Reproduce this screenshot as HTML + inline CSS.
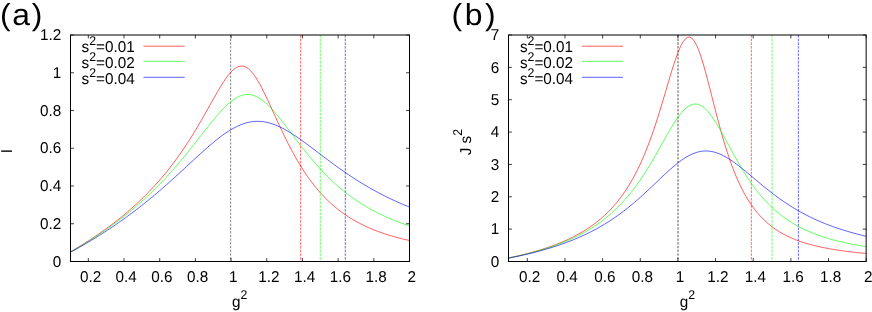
<!DOCTYPE html>
<html><head><meta charset="utf-8"><title>plot</title>
<style>
html,body{margin:0;padding:0;background:#fff;}
svg{display:block;will-change:transform}
text{font-family:"Liberation Sans",sans-serif;font-size:15.3px;fill:#000;text-rendering:geometricPrecision}
</style></head><body>
<svg width="872" height="312" viewBox="0 0 872 312">
<rect width="872" height="312" fill="#fff"/>
<line x1="230.65" y1="35.00" x2="230.65" y2="261.50" stroke="#000000" stroke-width="0.7" stroke-dasharray="2.3 1.4" stroke-opacity="0.7"/>
<line x1="300.66" y1="35.00" x2="300.66" y2="261.50" stroke="#ff0000" stroke-width="0.7" stroke-dasharray="2.6 1.1" stroke-opacity="0.85"/>
<line x1="320.29" y1="35.00" x2="320.29" y2="261.50" stroke="#00ff00" stroke-width="0.7" stroke-dasharray="2.6 1.1" stroke-opacity="0.85"/>
<line x1="345.27" y1="35.00" x2="345.27" y2="261.50" stroke="#0000ff" stroke-width="0.7" stroke-dasharray="2.6 1.1" stroke-opacity="0.85"/>
<polyline points="70.50,251.74 72.28,250.70 74.07,249.66 75.85,248.61 77.64,247.54 79.42,246.46 81.21,245.37 82.99,244.27 84.77,243.16 86.56,242.03 88.34,240.89 90.13,239.74 91.91,238.57 93.69,237.39 95.48,236.20 97.26,234.99 99.05,233.77 100.83,232.53 102.62,231.27 104.40,230.00 106.18,228.72 107.97,227.41 109.75,226.09 111.54,224.75 113.32,223.40 115.11,222.02 116.89,220.63 118.67,219.22 120.46,217.79 122.24,216.33 124.03,214.86 125.81,213.37 127.59,211.85 129.38,210.31 131.16,208.75 132.95,207.16 134.73,205.55 136.52,203.92 138.30,202.25 140.08,200.57 141.87,198.85 143.65,197.11 145.44,195.34 147.22,193.53 149.01,191.70 150.79,189.84 152.57,187.94 154.36,186.01 156.14,184.05 157.93,182.05 159.71,180.02 161.49,177.95 163.28,175.84 165.06,173.69 166.85,171.50 168.63,169.27 170.42,167.00 172.20,164.69 173.98,162.33 175.77,159.93 177.55,157.48 179.34,154.98 181.12,152.44 182.91,149.85 184.69,147.21 186.47,144.52 188.26,141.78 190.04,138.99 191.83,136.16 193.61,133.27 195.39,130.34 197.18,127.37 198.96,124.35 200.75,121.29 202.53,118.19 204.32,115.07 206.10,111.91 207.88,108.74 209.67,105.56 211.45,102.38 213.24,99.21 215.02,96.06 216.81,92.95 218.59,89.90 220.37,86.92 222.16,84.03 223.94,81.27 225.73,78.65 227.51,76.20 229.29,73.96 231.08,71.93 232.86,70.16 234.65,68.68 236.43,67.50 238.22,66.65 240.00,66.15 241.78,66.01 243.57,66.24 245.35,66.85 247.14,67.84 248.92,69.19 250.71,70.89 252.49,72.93 254.27,75.28 256.06,77.91 257.84,80.80 259.63,83.92 261.41,87.24 263.19,90.72 264.98,94.34 266.76,98.06 268.55,101.87 270.33,105.73 272.12,109.63 273.90,113.55 275.68,117.46 277.47,121.35 279.25,125.20 281.04,129.01 282.82,132.77 284.61,136.46 286.39,140.08 288.17,143.62 289.96,147.09 291.74,150.46 293.53,153.76 295.31,156.96 297.09,160.07 298.88,163.09 300.66,166.03 302.45,168.87 304.23,171.63 306.02,174.29 307.80,176.87 309.58,179.37 311.37,181.78 313.15,184.12 314.94,186.37 316.72,188.55 318.51,190.65 320.29,192.68 322.07,194.64 323.86,196.54 325.64,198.36 327.43,200.13 329.21,201.83 330.99,203.48 332.78,205.06 334.56,206.60 336.35,208.07 338.13,209.50 339.92,210.88 341.70,212.21 343.48,213.50 345.27,214.74 347.05,215.94 348.84,217.10 350.62,218.22 352.41,219.30 354.19,220.34 355.97,221.35 357.76,222.33 359.54,223.28 361.33,224.19 363.11,225.08 364.89,225.93 366.68,226.76 368.46,227.56 370.25,228.34 372.03,229.09 373.82,229.82 375.60,230.52 377.38,231.20 379.17,231.87 380.95,232.51 382.74,233.13 384.52,233.73 386.31,234.32 388.09,234.89 389.87,235.44 391.66,235.97 393.44,236.49 395.23,237.00 397.01,237.48 398.79,237.96 400.58,238.42 402.36,238.87 404.15,239.31 405.93,239.73 407.72,240.14 409.50,240.54" fill="none" stroke="#ff0000" stroke-width="0.72" stroke-opacity="0.88" stroke-linejoin="round"/>
<polyline points="70.50,251.91 72.28,250.90 74.07,249.88 75.85,248.85 77.64,247.80 79.42,246.75 81.21,245.69 82.99,244.61 84.77,243.53 86.56,242.43 88.34,241.32 90.13,240.20 91.91,239.07 93.69,237.92 95.48,236.76 97.26,235.59 99.05,234.41 100.83,233.21 102.62,232.00 104.40,230.78 106.18,229.54 107.97,228.28 109.75,227.01 111.54,225.73 113.32,224.43 115.11,223.12 116.89,221.78 118.67,220.44 120.46,219.07 122.24,217.69 124.03,216.29 125.81,214.88 127.59,213.45 129.38,211.99 131.16,210.52 132.95,209.03 134.73,207.52 136.52,205.99 138.30,204.44 140.08,202.87 141.87,201.28 143.65,199.67 145.44,198.04 147.22,196.38 149.01,194.70 150.79,193.00 152.57,191.27 154.36,189.53 156.14,187.75 157.93,185.96 159.71,184.14 161.49,182.29 163.28,180.42 165.06,178.53 166.85,176.61 168.63,174.66 170.42,172.69 172.20,170.70 173.98,168.68 175.77,166.63 177.55,164.56 179.34,162.47 181.12,160.35 182.91,158.21 184.69,156.05 186.47,153.87 188.26,151.67 190.04,149.45 191.83,147.21 193.61,144.95 195.39,142.69 197.18,140.41 198.96,138.13 200.75,135.84 202.53,133.55 204.32,131.27 206.10,128.99 207.88,126.73 209.67,124.48 211.45,122.25 213.24,120.06 215.02,117.90 216.81,115.78 218.59,113.72 220.37,111.71 222.16,109.77 223.94,107.90 225.73,106.13 227.51,104.44 229.29,102.86 231.08,101.38 232.86,100.03 234.65,98.81 236.43,97.73 238.22,96.79 240.00,96.01 241.78,95.38 243.57,94.92 245.35,94.63 247.14,94.51 248.92,94.56 250.71,94.78 252.49,95.17 254.27,95.73 256.06,96.46 257.84,97.35 259.63,98.40 261.41,99.59 263.19,100.92 264.98,102.39 266.76,103.98 268.55,105.68 270.33,107.48 272.12,109.38 273.90,111.37 275.68,113.43 277.47,115.56 279.25,117.74 281.04,119.97 282.82,122.24 284.61,124.54 286.39,126.86 288.17,129.20 289.96,131.55 291.74,133.91 293.53,136.26 295.31,138.61 297.09,140.94 298.88,143.26 300.66,145.57 302.45,147.85 304.23,150.10 306.02,152.33 307.80,154.53 309.58,156.69 311.37,158.82 313.15,160.92 314.94,162.98 316.72,165.01 318.51,167.00 320.29,168.95 322.07,170.86 323.86,172.73 325.64,174.57 327.43,176.36 329.21,178.12 330.99,179.84 332.78,181.52 334.56,183.16 336.35,184.76 338.13,186.33 339.92,187.86 341.70,189.36 343.48,190.82 345.27,192.24 347.05,193.63 348.84,194.99 350.62,196.31 352.41,197.61 354.19,198.87 355.97,200.10 357.76,201.30 359.54,202.47 361.33,203.61 363.11,204.72 364.89,205.81 366.68,206.87 368.46,207.90 370.25,208.91 372.03,209.90 373.82,210.86 375.60,211.79 377.38,212.71 379.17,213.60 380.95,214.47 382.74,215.31 384.52,216.14 386.31,216.95 388.09,217.74 389.87,218.51 391.66,219.26 393.44,219.99 395.23,220.71 397.01,221.41 398.79,222.09 400.58,222.75 402.36,223.40 404.15,224.04 405.93,224.66 407.72,225.27 409.50,225.86" fill="none" stroke="#00ff00" stroke-width="0.72" stroke-opacity="0.88" stroke-linejoin="round"/>
<polyline points="70.50,252.23 72.28,251.26 74.07,250.28 75.85,249.30 77.64,248.30 79.42,247.29 81.21,246.28 82.99,245.25 84.77,244.22 86.56,243.17 88.34,242.12 90.13,241.06 91.91,239.98 93.69,238.90 95.48,237.81 97.26,236.71 99.05,235.59 100.83,234.47 102.62,233.33 104.40,232.19 106.18,231.03 107.97,229.86 109.75,228.68 111.54,227.49 113.32,226.29 115.11,225.08 116.89,223.85 118.67,222.61 120.46,221.37 122.24,220.10 124.03,218.83 125.81,217.54 127.59,216.25 129.38,214.93 131.16,213.61 132.95,212.27 134.73,210.93 136.52,209.56 138.30,208.19 140.08,206.80 141.87,205.40 143.65,203.99 145.44,202.56 147.22,201.12 149.01,199.67 150.79,198.20 152.57,196.72 154.36,195.23 156.14,193.73 157.93,192.21 159.71,190.69 161.49,189.15 163.28,187.59 165.06,186.03 166.85,184.46 168.63,182.88 170.42,181.28 172.20,179.68 173.98,178.07 175.77,176.45 177.55,174.82 179.34,173.19 181.12,171.55 182.91,169.90 184.69,168.25 186.47,166.60 188.26,164.95 190.04,163.30 191.83,161.64 193.61,159.99 195.39,158.35 197.18,156.71 198.96,155.07 200.75,153.45 202.53,151.84 204.32,150.24 206.10,148.66 207.88,147.09 209.67,145.55 211.45,144.03 213.24,142.53 215.02,141.06 216.81,139.63 218.59,138.22 220.37,136.86 222.16,135.53 223.94,134.24 225.73,133.00 227.51,131.81 229.29,130.67 231.08,129.59 232.86,128.56 234.65,127.59 236.43,126.68 238.22,125.84 240.00,125.06 241.78,124.35 243.57,123.72 245.35,123.15 247.14,122.66 248.92,122.25 250.71,121.91 252.49,121.65 254.27,121.46 256.06,121.36 257.84,121.33 259.63,121.38 261.41,121.50 263.19,121.70 264.98,121.98 266.76,122.33 268.55,122.74 270.33,123.23 272.12,123.79 273.90,124.41 275.68,125.09 277.47,125.83 279.25,126.63 281.04,127.48 282.82,128.39 284.61,129.34 286.39,130.34 288.17,131.38 289.96,132.46 291.74,133.57 293.53,134.72 295.31,135.90 297.09,137.11 298.88,138.34 300.66,139.60 302.45,140.88 304.23,142.17 306.02,143.48 307.80,144.80 309.58,146.13 311.37,147.47 313.15,148.81 314.94,150.17 316.72,151.52 318.51,152.87 320.29,154.23 322.07,155.58 323.86,156.93 325.64,158.27 327.43,159.61 329.21,160.94 330.99,162.27 332.78,163.58 334.56,164.89 336.35,166.18 338.13,167.46 339.92,168.74 341.70,170.00 343.48,171.24 345.27,172.48 347.05,173.70 348.84,174.90 350.62,176.10 352.41,177.27 354.19,178.44 355.97,179.58 357.76,180.71 359.54,181.83 361.33,182.93 363.11,184.02 364.89,185.09 366.68,186.14 368.46,187.18 370.25,188.21 372.03,189.22 373.82,190.21 375.60,191.19 377.38,192.15 379.17,193.10 380.95,194.03 382.74,194.95 384.52,195.85 386.31,196.74 388.09,197.61 389.87,198.47 391.66,199.32 393.44,200.15 395.23,200.97 397.01,201.77 398.79,202.57 400.58,203.34 402.36,204.11 404.15,204.86 405.93,205.60 407.72,206.33 409.50,207.05" fill="none" stroke="#0000ff" stroke-width="0.72" stroke-opacity="0.88" stroke-linejoin="round"/>
<rect x="70.50" y="35.00" width="339.00" height="226.50" fill="none" stroke="#000" stroke-width="1"/>
<path d="M88.34 261.50v-3.4M88.34 35.00v3.4M124.03 261.50v-3.4M124.03 35.00v3.4M159.71 261.50v-3.4M159.71 35.00v3.4M195.39 261.50v-3.4M195.39 35.00v3.4M231.08 261.50v-3.4M231.08 35.00v3.4M266.76 261.50v-3.4M266.76 35.00v3.4M302.45 261.50v-3.4M302.45 35.00v3.4M338.13 261.50v-3.4M338.13 35.00v3.4M373.82 261.50v-3.4M373.82 35.00v3.4M409.50 261.50v-3.4M409.50 35.00v3.4M70.50 261.50h3.4M409.50 261.50h-3.4M70.50 223.75h3.4M409.50 223.75h-3.4M70.50 186.00h3.4M409.50 186.00h-3.4M70.50 148.25h3.4M409.50 148.25h-3.4M70.50 110.50h3.4M409.50 110.50h-3.4M70.50 72.75h3.4M409.50 72.75h-3.4M70.50 35.00h3.4M409.50 35.00h-3.4" stroke="#000" stroke-width="0.9" stroke-opacity="0.85" fill="none"/>
<text transform="translate(90.54,281.90) scale(1,1.03)" text-anchor="middle">0.2</text>
<text transform="translate(126.23,281.90) scale(1,1.03)" text-anchor="middle">0.4</text>
<text transform="translate(161.91,281.90) scale(1,1.03)" text-anchor="middle">0.6</text>
<text transform="translate(197.59,281.90) scale(1,1.03)" text-anchor="middle">0.8</text>
<text transform="translate(233.28,281.90) scale(1,1.03)" text-anchor="middle">1</text>
<text transform="translate(268.96,281.90) scale(1,1.03)" text-anchor="middle">1.2</text>
<text transform="translate(304.65,281.90) scale(1,1.03)" text-anchor="middle">1.4</text>
<text transform="translate(340.33,281.90) scale(1,1.03)" text-anchor="middle">1.6</text>
<text transform="translate(376.02,281.90) scale(1,1.03)" text-anchor="middle">1.8</text>
<text transform="translate(411.70,281.90) scale(1,1.03)" text-anchor="middle">2</text>
<text transform="translate(61.30,266.70) scale(1,1.03)" text-anchor="end">0</text>
<text transform="translate(61.30,228.95) scale(1,1.03)" text-anchor="end">0.2</text>
<text transform="translate(61.30,191.20) scale(1,1.03)" text-anchor="end">0.4</text>
<text transform="translate(61.30,153.45) scale(1,1.03)" text-anchor="end">0.6</text>
<text transform="translate(61.30,115.70) scale(1,1.03)" text-anchor="end">0.8</text>
<text transform="translate(61.30,77.95) scale(1,1.03)" text-anchor="end">1</text>
<text transform="translate(61.30,40.20) scale(1,1.03)" text-anchor="end">1.2</text>
<text transform="translate(81.60,52.40) scale(1,1.03)" text-anchor="start">s<tspan dy="-7.09" font-size="12.3">2</tspan><tspan dy="7.09">=0.01</tspan></text>
<line x1="143.5" y1="46.2" x2="184.7" y2="46.2" stroke="#ff0000" stroke-width="0.72" stroke-opacity="0.88"/>
<text transform="translate(81.60,68.10) scale(1,1.03)" text-anchor="start">s<tspan dy="-7.09" font-size="12.3">2</tspan><tspan dy="7.09">=0.02</tspan></text>
<line x1="143.5" y1="61.3" x2="184.7" y2="61.3" stroke="#00ff00" stroke-width="0.72" stroke-opacity="0.88"/>
<text transform="translate(81.60,83.80) scale(1,1.03)" text-anchor="start">s<tspan dy="-7.09" font-size="12.3">2</tspan><tspan dy="7.09">=0.04</tspan></text>
<line x1="143.5" y1="77.3" x2="184.7" y2="77.3" stroke="#0000ff" stroke-width="0.72" stroke-opacity="0.88"/>
<line x1="678.00" y1="35.00" x2="678.00" y2="261.50" stroke="#000000" stroke-width="0.85" stroke-dasharray="2.3 1.4" stroke-opacity="0.8"/>
<line x1="751.33" y1="35.00" x2="751.33" y2="261.50" stroke="#ff0000" stroke-width="0.7" stroke-dasharray="2.6 1.1" stroke-opacity="0.85"/>
<line x1="772.03" y1="35.00" x2="772.03" y2="261.50" stroke="#00ff00" stroke-width="0.7" stroke-dasharray="2.6 1.1" stroke-opacity="0.85"/>
<line x1="798.38" y1="35.00" x2="798.38" y2="261.50" stroke="#0000ff" stroke-width="0.7" stroke-dasharray="2.6 1.1" stroke-opacity="0.85"/>
<polyline points="508.50,257.97 510.38,257.58 512.26,257.18 514.15,256.76 516.03,256.34 517.91,255.91 519.79,255.47 521.68,255.02 523.56,254.56 525.44,254.09 527.32,253.60 529.21,253.11 531.09,252.60 532.97,252.08 534.85,251.55 536.74,251.01 538.62,250.45 540.50,249.87 542.38,249.28 544.26,248.68 546.15,248.06 548.03,247.42 549.91,246.77 551.79,246.10 553.68,245.41 555.56,244.70 557.44,243.96 559.32,243.21 561.21,242.44 563.09,241.64 564.97,240.82 566.85,239.97 568.74,239.10 570.62,238.20 572.50,237.27 574.38,236.31 576.27,235.32 578.15,234.30 580.03,233.24 581.91,232.14 583.79,231.01 585.68,229.84 587.56,228.63 589.44,227.37 591.32,226.07 593.21,224.71 595.09,223.31 596.97,221.85 598.85,220.34 600.74,218.77 602.62,217.13 604.50,215.43 606.38,213.66 608.27,211.81 610.15,209.89 612.03,207.88 613.91,205.79 615.79,203.60 617.68,201.32 619.56,198.93 621.44,196.44 623.32,193.82 625.21,191.09 627.09,188.23 628.97,185.23 630.85,182.09 632.74,178.80 634.62,175.36 636.50,171.74 638.38,167.95 640.27,163.98 642.15,159.82 644.03,155.46 645.91,150.90 647.80,146.14 649.68,141.16 651.56,135.97 653.44,130.58 655.32,124.98 657.21,119.19 659.09,113.22 660.97,107.09 662.85,100.84 664.74,94.49 666.62,88.09 668.50,81.71 670.38,75.41 672.27,69.26 674.15,63.36 676.03,57.80 677.91,52.69 679.80,48.13 681.68,44.23 683.56,41.09 685.44,38.80 687.33,37.44 689.21,37.07 691.09,37.70 692.97,39.35 694.85,41.99 696.74,45.57 698.62,50.01 700.50,55.22 702.38,61.09 704.27,67.49 706.15,74.32 708.03,81.46 709.91,88.79 711.80,96.22 713.68,103.65 715.56,111.02 717.44,118.25 719.33,125.29 721.21,132.11 723.09,138.68 724.97,144.98 726.85,150.99 728.74,156.71 730.62,162.14 732.50,167.28 734.38,172.13 736.27,176.71 738.15,181.03 740.03,185.09 741.91,188.92 743.80,192.52 745.68,195.90 747.56,199.08 749.44,202.06 751.33,204.87 753.21,207.51 755.09,210.00 756.97,212.33 758.86,214.53 760.74,216.60 762.62,218.55 764.50,220.39 766.38,222.13 768.27,223.76 770.15,225.31 772.03,226.77 773.91,228.15 775.80,229.45 777.68,230.69 779.56,231.86 781.44,232.97 783.33,234.02 785.21,235.02 787.09,235.96 788.97,236.86 790.86,237.72 792.74,238.53 794.62,239.31 796.50,240.05 798.38,240.75 800.27,241.42 802.15,242.06 804.03,242.67 805.91,243.25 807.80,243.81 809.68,244.35 811.56,244.86 813.44,245.34 815.33,245.81 817.21,246.26 819.09,246.69 820.97,247.10 822.86,247.50 824.74,247.88 826.62,248.24 828.50,248.59 830.38,248.93 832.27,249.25 834.15,249.56 836.03,249.86 837.91,250.15 839.80,250.43 841.68,250.70 843.56,250.96 845.44,251.21 847.33,251.45 849.21,251.68 851.09,251.91 852.97,252.12 854.86,252.33 856.74,252.54 858.62,252.73 860.50,252.92 862.39,253.11 864.27,253.28 866.15,253.45" fill="none" stroke="#ff0000" stroke-width="0.72" stroke-opacity="0.88" stroke-linejoin="round"/>
<polyline points="508.50,258.04 510.38,257.65 512.26,257.26 514.15,256.86 516.03,256.45 517.91,256.03 519.79,255.60 521.68,255.16 523.56,254.71 525.44,254.25 527.32,253.79 529.21,253.31 531.09,252.82 532.97,252.32 534.85,251.80 536.74,251.28 538.62,250.74 540.50,250.19 542.38,249.63 544.26,249.05 546.15,248.46 548.03,247.85 549.91,247.23 551.79,246.59 553.68,245.93 555.56,245.26 557.44,244.57 559.32,243.86 561.21,243.13 563.09,242.39 564.97,241.62 566.85,240.83 568.74,240.02 570.62,239.18 572.50,238.32 574.38,237.44 576.27,236.53 578.15,235.59 580.03,234.63 581.91,233.63 583.79,232.61 585.68,231.56 587.56,230.47 589.44,229.34 591.32,228.19 593.21,226.99 595.09,225.76 596.97,224.49 598.85,223.17 600.74,221.81 602.62,220.41 604.50,218.96 606.38,217.46 608.27,215.91 610.15,214.31 612.03,212.65 613.91,210.94 615.79,209.17 617.68,207.34 619.56,205.44 621.44,203.48 623.32,201.45 625.21,199.36 627.09,197.19 628.97,194.95 630.85,192.64 632.74,190.25 634.62,187.78 636.50,185.23 638.38,182.61 640.27,179.91 642.15,177.13 644.03,174.27 645.91,171.33 647.80,168.33 649.68,165.25 651.56,162.11 653.44,158.91 655.32,155.66 657.21,152.36 659.09,149.03 660.97,145.68 662.85,142.32 664.74,138.96 666.62,135.63 668.50,132.35 670.38,129.12 672.27,125.99 674.15,122.96 676.03,120.07 677.91,117.34 679.80,114.79 681.68,112.46 683.56,110.37 685.44,108.54 687.33,106.99 689.21,105.75 691.09,104.83 692.97,104.24 694.85,103.99 696.74,104.09 698.62,104.54 700.50,105.33 702.38,106.45 704.27,107.89 706.15,109.63 708.03,111.66 709.91,113.95 711.80,116.47 713.68,119.20 715.56,122.12 717.44,125.19 719.33,128.39 721.21,131.68 723.09,135.06 724.97,138.49 726.85,141.95 728.74,145.42 730.62,148.89 732.50,152.33 734.38,155.74 736.27,159.10 738.15,162.40 740.03,165.63 741.91,168.79 743.80,171.87 745.68,174.87 747.56,177.78 749.44,180.60 751.33,183.33 753.21,185.97 755.09,188.51 756.97,190.97 758.86,193.34 760.74,195.62 762.62,197.82 764.50,199.93 766.38,201.96 768.27,203.91 770.15,205.78 772.03,207.58 773.91,209.31 775.80,210.98 777.68,212.57 779.56,214.10 781.44,215.57 783.33,216.98 785.21,218.34 787.09,219.64 788.97,220.89 790.86,222.10 792.74,223.25 794.62,224.36 796.50,225.43 798.38,226.45 800.27,227.44 802.15,228.39 804.03,229.30 805.91,230.18 807.80,231.02 809.68,231.84 811.56,232.62 813.44,233.38 815.33,234.10 817.21,234.80 819.09,235.48 820.97,236.13 822.86,236.76 824.74,237.37 826.62,237.95 828.50,238.52 830.38,239.07 832.27,239.59 834.15,240.10 836.03,240.60 837.91,241.07 839.80,241.53 841.68,241.98 843.56,242.41 845.44,242.83 847.33,243.23 849.21,243.62 851.09,244.00 852.97,244.37 854.86,244.73 856.74,245.07 858.62,245.41 860.50,245.73 862.39,246.05 864.27,246.36 866.15,246.65" fill="none" stroke="#00ff00" stroke-width="0.72" stroke-opacity="0.88" stroke-linejoin="round"/>
<polyline points="508.50,258.16 510.38,257.79 512.26,257.42 514.15,257.03 516.03,256.64 517.91,256.24 519.79,255.84 521.68,255.42 523.56,255.00 525.44,254.57 527.32,254.12 529.21,253.67 531.09,253.21 532.97,252.75 534.85,252.27 536.74,251.78 538.62,251.28 540.50,250.77 542.38,250.25 544.26,249.71 546.15,249.17 548.03,248.61 549.91,248.04 551.79,247.46 553.68,246.87 555.56,246.26 557.44,245.64 559.32,245.00 561.21,244.35 563.09,243.68 564.97,243.00 566.85,242.31 568.74,241.59 570.62,240.86 572.50,240.11 574.38,239.34 576.27,238.56 578.15,237.76 580.03,236.93 581.91,236.09 583.79,235.23 585.68,234.34 587.56,233.43 589.44,232.50 591.32,231.55 593.21,230.58 595.09,229.58 596.97,228.56 598.85,227.51 600.74,226.43 602.62,225.33 604.50,224.21 606.38,223.05 608.27,221.87 610.15,220.66 612.03,219.42 613.91,218.15 615.79,216.86 617.68,215.53 619.56,214.18 621.44,212.79 623.32,211.37 625.21,209.93 627.09,208.45 628.97,206.95 630.85,205.41 632.74,203.85 634.62,202.26 636.50,200.64 638.38,199.00 640.27,197.33 642.15,195.64 644.03,193.92 645.91,192.19 647.80,190.44 649.68,188.67 651.56,186.89 653.44,185.10 655.32,183.31 657.21,181.51 659.09,179.72 660.97,177.93 662.85,176.15 664.74,174.38 666.62,172.64 668.50,170.93 670.38,169.24 672.27,167.59 674.15,165.99 676.03,164.43 677.91,162.94 679.80,161.50 681.68,160.13 683.56,158.84 685.44,157.63 687.33,156.50 689.21,155.47 691.09,154.53 692.97,153.70 694.85,152.97 696.74,152.35 698.62,151.84 700.50,151.45 702.38,151.17 704.27,151.01 706.15,150.97 708.03,151.04 709.91,151.23 711.80,151.53 713.68,151.94 715.56,152.47 717.44,153.09 719.33,153.82 721.21,154.64 723.09,155.55 724.97,156.54 726.85,157.62 728.74,158.77 730.62,159.98 732.50,161.26 734.38,162.59 736.27,163.97 738.15,165.39 740.03,166.86 741.91,168.35 743.80,169.87 745.68,171.41 747.56,172.97 749.44,174.54 751.33,176.12 753.21,177.70 755.09,179.28 756.97,180.85 758.86,182.42 760.74,183.99 762.62,185.53 764.50,187.07 766.38,188.59 768.27,190.08 770.15,191.56 772.03,193.02 773.91,194.45 775.80,195.87 777.68,197.25 779.56,198.61 781.44,199.95 783.33,201.25 785.21,202.54 787.09,203.79 788.97,205.02 790.86,206.22 792.74,207.39 794.62,208.54 796.50,209.66 798.38,210.75 800.27,211.82 802.15,212.86 804.03,213.88 805.91,214.87 807.80,215.84 809.68,216.78 811.56,217.70 813.44,218.59 815.33,219.47 817.21,220.32 819.09,221.15 820.97,221.95 822.86,222.74 824.74,223.51 826.62,224.26 828.50,224.99 830.38,225.70 832.27,226.39 834.15,227.06 836.03,227.72 837.91,228.36 839.80,228.98 841.68,229.59 843.56,230.18 845.44,230.76 847.33,231.32 849.21,231.87 851.09,232.41 852.97,232.93 854.86,233.44 856.74,233.93 858.62,234.42 860.50,234.89 862.39,235.35 864.27,235.80 866.15,236.24" fill="none" stroke="#0000ff" stroke-width="0.72" stroke-opacity="0.88" stroke-linejoin="round"/>
<rect x="508.50" y="35.00" width="357.65" height="226.50" fill="none" stroke="#000" stroke-width="1"/>
<path d="M527.32 261.50v-3.4M527.32 35.00v3.4M564.97 261.50v-3.4M564.97 35.00v3.4M602.62 261.50v-3.4M602.62 35.00v3.4M640.27 261.50v-3.4M640.27 35.00v3.4M677.91 261.50v-3.4M677.91 35.00v3.4M715.56 261.50v-3.4M715.56 35.00v3.4M753.21 261.50v-3.4M753.21 35.00v3.4M790.86 261.50v-3.4M790.86 35.00v3.4M828.50 261.50v-3.4M828.50 35.00v3.4M866.15 261.50v-3.4M866.15 35.00v3.4M508.50 261.50h3.4M866.15 261.50h-3.4M508.50 229.14h3.4M866.15 229.14h-3.4M508.50 196.79h3.4M866.15 196.79h-3.4M508.50 164.43h3.4M866.15 164.43h-3.4M508.50 132.07h3.4M866.15 132.07h-3.4M508.50 99.71h3.4M866.15 99.71h-3.4M508.50 67.36h3.4M866.15 67.36h-3.4M508.50 35.00h3.4M866.15 35.00h-3.4" stroke="#000" stroke-width="0.9" stroke-opacity="0.85" fill="none"/>
<text transform="translate(529.52,281.90) scale(1,1.03)" text-anchor="middle">0.2</text>
<text transform="translate(567.17,281.90) scale(1,1.03)" text-anchor="middle">0.4</text>
<text transform="translate(604.82,281.90) scale(1,1.03)" text-anchor="middle">0.6</text>
<text transform="translate(642.47,281.90) scale(1,1.03)" text-anchor="middle">0.8</text>
<text transform="translate(680.11,281.90) scale(1,1.03)" text-anchor="middle">1</text>
<text transform="translate(717.76,281.90) scale(1,1.03)" text-anchor="middle">1.2</text>
<text transform="translate(755.41,281.90) scale(1,1.03)" text-anchor="middle">1.4</text>
<text transform="translate(793.06,281.90) scale(1,1.03)" text-anchor="middle">1.6</text>
<text transform="translate(830.70,281.90) scale(1,1.03)" text-anchor="middle">1.8</text>
<text transform="translate(868.35,281.90) scale(1,1.03)" text-anchor="middle">2</text>
<text transform="translate(499.30,266.70) scale(1,1.03)" text-anchor="end">0</text>
<text transform="translate(499.30,234.34) scale(1,1.03)" text-anchor="end">1</text>
<text transform="translate(499.30,201.99) scale(1,1.03)" text-anchor="end">2</text>
<text transform="translate(499.30,169.63) scale(1,1.03)" text-anchor="end">3</text>
<text transform="translate(499.30,137.27) scale(1,1.03)" text-anchor="end">4</text>
<text transform="translate(499.30,104.91) scale(1,1.03)" text-anchor="end">5</text>
<text transform="translate(499.30,72.56) scale(1,1.03)" text-anchor="end">6</text>
<text transform="translate(499.30,40.20) scale(1,1.03)" text-anchor="end">7</text>
<text transform="translate(519.90,52.40) scale(1,1.03)" text-anchor="start">s<tspan dy="-7.09" font-size="12.3">2</tspan><tspan dy="7.09">=0.01</tspan></text>
<line x1="581.8" y1="46.2" x2="623.0" y2="46.2" stroke="#ff0000" stroke-width="0.72" stroke-opacity="0.88"/>
<text transform="translate(519.90,68.10) scale(1,1.03)" text-anchor="start">s<tspan dy="-7.09" font-size="12.3">2</tspan><tspan dy="7.09">=0.02</tspan></text>
<line x1="581.8" y1="61.3" x2="623.0" y2="61.3" stroke="#00ff00" stroke-width="0.72" stroke-opacity="0.88"/>
<text transform="translate(519.90,83.80) scale(1,1.03)" text-anchor="start">s<tspan dy="-7.09" font-size="12.3">2</tspan><tspan dy="7.09">=0.04</tspan></text>
<line x1="581.8" y1="77.3" x2="623.0" y2="77.3" stroke="#0000ff" stroke-width="0.72" stroke-opacity="0.88"/>
<text transform="translate(0.0,25.1) scale(1.10,1.05)" style="font-size:29px;letter-spacing:1.5px">(a)</text>
<text transform="translate(451.5,25.1) scale(1.10,1.05)" style="font-size:29px;letter-spacing:2.3px">(b)</text>
<text transform="translate(232.00,306.80) scale(1,1.03)" text-anchor="start">g<tspan dy="-7.67" font-size="12.3">2</tspan></text>
<text transform="translate(679.80,306.90) scale(1,1.03)" text-anchor="start">g<tspan dy="-7.67" font-size="12.3">2</tspan></text>
<text transform="translate(12.30,153.20) rotate(-90) scale(1,1.03)" text-anchor="start">I</text>
<text transform="translate(470.60,155.30) rotate(-90) scale(1,1.03)" text-anchor="start">J s<tspan dy="-8.06" font-size="12.3">2</tspan></text>
</svg>
</body></html>
